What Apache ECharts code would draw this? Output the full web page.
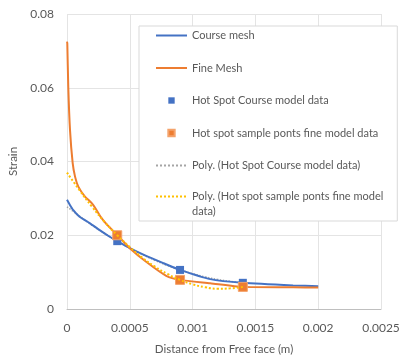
<!DOCTYPE html>
<html>
<head>
<meta charset="utf-8">
<script src="https://cdn.jsdelivr.net/npm/echarts@6/dist/echarts.min.js"></script>
<style>
  html, body { margin: 0; padding: 0; background: #fff; }
  #chart { width: 401px; height: 358px; }
</style>
</head>
<body>
<div id="chart"></div>
<script>
// 曲线数据
const courseX = [0, 0.00002, 0.00005, 0.0001, 0.00018, 0.00026, 0.00034, 0.0004, 0.0005, 0.00063, 0.00077, 0.0009, 0.00114, 0.0014, 0.0018, 0.002]
const courseY = [0.0296, 0.0284, 0.0268, 0.0250, 0.0233, 0.0214, 0.0196, 0.0184, 0.0165, 0.0144, 0.0124, 0.0106, 0.0081, 0.0071, 0.0064, 0.0062]

const fineX = [0, 0.0000024, 0.00001, 0.000024, 0.000045, 0.000064, 0.00009, 0.000143, 0.000197, 0.000236, 0.000268, 0.00032, 0.00038, 0.0004, 0.0005, 0.00063, 0.00079, 0.0009, 0.00114, 0.0014, 0.0018, 0.002]
const fineY = [0.0725, 0.0720, 0.0603, 0.0485, 0.0396, 0.0359, 0.0332, 0.0305, 0.0287, 0.0268, 0.0250, 0.0228, 0.0208, 0.0200, 0.0165, 0.0128, 0.0090, 0.0079, 0.0070, 0.0060, 0.0059, 0.0058]

// 热点取样
const spotX = [0.0004, 0.0009, 0.0014]
const spotCourse = [0.0184, 0.0106, 0.0071]
const spotFine = [0.0200, 0.0079, 0.0060]

// 多项式趋势线
const polyX = [0, 0.0001, 0.0002, 0.0003, 0.0004, 0.0005, 0.0006, 0.0007, 0.0008, 0.0009, 0.001, 0.0011, 0.0012, 0.0013, 0.0014]
const polyCourse = [0.0277, 0.0252, 0.0227, 0.0205, 0.0184, 0.0165, 0.0148, 0.0132, 0.0118, 0.0106, 0.0096, 0.0087, 0.0080, 0.0075, 0.0071]
const polyFine = [0.0370, 0.0322, 0.0277, 0.0236, 0.0200, 0.0168, 0.0139, 0.0115, 0.0095, 0.0079, 0.0067, 0.0059, 0.0055, 0.0056, 0.0060]

const pairs = (xs, ys) => xs.map((x, i) => [x, ys[i]])

const FONT = 'Lato'
const TXT = '#595959'
const SQUARE = 'path://M-2,-2M0,0L7,0L7,7L0,7ZM9,9'
const LONG = 'Poly. (Hot spot sample ponts fine model data)'
// 折线图例只显示线段，隐藏中间的圆点
const lineOnly = { opacity: 0 }
const legendText = { fontSize: 11, color: TXT, fontFamily: FONT, lineHeight: 15 }

const chart = echarts.init(document.getElementById('chart'))
chart.setOption({
  animation: false,
  textStyle: { fontFamily: FONT },
  grid: { left: 67, right: 20, top: 14, bottom: 49, outerBoundsMode: 'none' },
  legend: [{
    // 边框 + 前五项
    orient: 'vertical', left: 139, top: 26,
    padding: [2, 19, 48, 16],
    backgroundColor: '#fff', borderColor: '#d9d9d9', borderWidth: 1,
    itemWidth: 31, itemHeight: 10, itemGap: 17.5,
    textStyle: legendText,
    data: [
      { name: 'Course mesh', itemStyle: lineOnly },
      { name: 'Fine Mesh', itemStyle: lineOnly },
      { name: 'Hot Spot Course model data', icon: SQUARE },
      { name: 'Hot spot sample ponts fine model data', icon: SQUARE },
      { name: 'Poly. (Hot Spot Course model data)', itemStyle: lineOnly },
    ],
  }, {
    // 两行的最后一项，图标对齐第一行
    orient: 'vertical', left: 139, top: 174, z: 5,
    padding: [0, 14, 0, 16],
    itemWidth: 31, itemHeight: 10,
    textStyle: legendText,
    data: [{ name: LONG, itemStyle: lineOnly }],
    formatter: () => '\nPoly. (Hot spot sample ponts fine model\ndata)',
  }],
  xAxis: {
    type: 'value', min: 0, max: 0.0025, interval: 0.0005,
    name: 'Distance from Free face (m)', nameLocation: 'middle', nameGap: 34,
    nameTextStyle: { fontSize: 11.5, color: TXT },
    axisLine: { lineStyle: { color: '#bfbfbf' } },
    axisTick: { show: false },
    axisLabel: { fontSize: 12, color: TXT, margin: 13, formatter: v => String(parseFloat(v.toFixed(4))) },
    splitLine: { lineStyle: { color: '#e4e4e4' } },
  },
  yAxis: {
    type: 'value', min: 0, max: 0.08, interval: 0.02,
    name: 'Strain', nameLocation: 'middle', nameGap: 40,
    nameTextStyle: { fontSize: 11.5, color: TXT },
    axisLine: { show: false }, axisTick: { show: false },
    axisLabel: { fontSize: 12, color: TXT, margin: 13, formatter: v => String(parseFloat(v.toFixed(2))) },
    splitLine: { lineStyle: { color: '#e4e4e4' } },
  },
  series: [
    { name: 'Course mesh', type: 'line', symbol: 'none', smooth: 0.2, data: pairs(courseX, courseY),
      lineStyle: { color: '#4472c4', width: 2 }, itemStyle: { color: '#4472c4' }, z: 3 },
    { name: 'Fine Mesh', type: 'line', symbol: 'none', smooth: 0.2, data: pairs(fineX, fineY),
      lineStyle: { color: '#ed7d31', width: 2 }, itemStyle: { color: '#ed7d31' }, z: 3 },
    { name: 'Hot Spot Course model data', type: 'scatter', symbol: 'rect', symbolSize: 8,
      data: pairs(spotX, spotCourse), itemStyle: { color: '#4472c4', opacity: 1 }, z: 4 },
    { name: 'Hot spot sample ponts fine model data', type: 'scatter', symbol: 'rect', symbolSize: 9,
      data: pairs(spotX, spotFine),
      itemStyle: { color: '#ed7d31', opacity: 1, borderColor: '#f4a36c', borderWidth: 1 }, z: 5 },
    { name: 'Poly. (Hot Spot Course model data)', type: 'line', symbol: 'none', smooth: true,
      data: pairs(polyX, polyCourse),
      lineStyle: { color: '#a5a5a5', width: 1.5, type: 'dotted' }, itemStyle: { color: '#a5a5a5' }, z: 2 },
    { name: LONG, type: 'line', symbol: 'none', smooth: true,
      data: pairs(polyX, polyFine),
      lineStyle: { color: '#ffc000', width: 2, type: 'dotted' }, itemStyle: { color: '#ffc000' }, z: 6 },
  ]
})
</script>
</body>
</html>
